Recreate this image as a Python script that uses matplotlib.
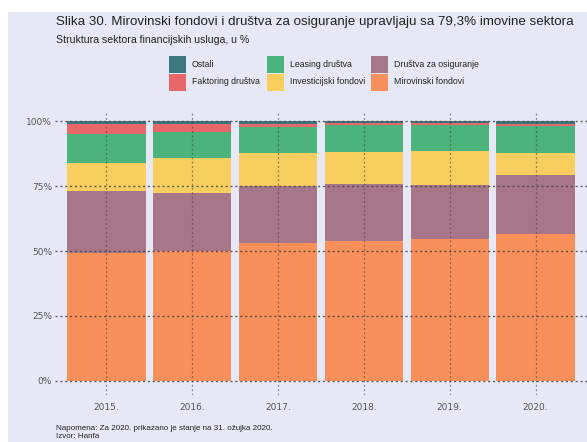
import matplotlib.pyplot as plt
from matplotlib.patches import Rectangle
import numpy as np

# podaci
godine = ['2015.', '2016.', '2017.', '2018.', '2019.', '2020.']
mirovinski = [49.1, 50.1, 52.9, 53.8, 54.6, 56.5]
osiguranje = [24.0, 22.3, 22.1, 22.0, 20.9, 22.8]
investicijski = [10.7, 13.4, 12.7, 12.3, 13.0, 8.3]
leasing = [11.2, 10.0, 9.9, 10.2, 9.8, 10.6]
faktoring = [3.8, 3.0, 1.2, 0.8, 0.8, 0.8]
ostali = [1.2, 1.2, 1.2, 0.9, 0.9, 1.0]

serije = [
    ('Mirovinski fondovi', mirovinski, '#F98F5A'),
    ('Društva za osiguranje', osiguranje, '#A87689'),
    ('Investicijski fondovi', investicijski, '#F8CE5F'),
    ('Leasing društva', leasing, '#4BB37B'),
    ('Faktoring društva', faktoring, '#E8686A'),
    ('Ostali', ostali, '#3D7880'),
]

W, H = 587, 442
bg = '#E6E8F5'
fig = plt.figure(figsize=(W / 100, H / 100), dpi=100)
fig.patch.set_facecolor('white')
fig.patches.append(Rectangle((8 / W, 0), 1, 1 - 12 / H, transform=fig.transFigure,
                             facecolor=bg, edgecolor='none', zorder=-10))

ax = fig.add_axes([55 / W, 47 / H, 532 / W, 282 / H])
ax.patch.set_alpha(0)

x = np.arange(len(godine))
dno = np.zeros(len(godine))
for ime, vrijednosti, boja in serije:
    ax.bar(x, vrijednosti, bottom=dno, width=0.91, color=boja, zorder=2)
    dno += np.array(vrijednosti)

ax.set_xlim(-0.6, 5.6)
ax.set_ylim(-5.4, 103.1)

for y in [0, 25, 50, 75, 100]:
    ax.axhline(y, color='#444444', linestyle=(0, (1.5, 2)), linewidth=1, zorder=3, alpha=0.85)
for xi in x:
    ax.axvline(xi, color='#444444', linestyle=(0, (1.5, 2)), linewidth=0.9, zorder=3, alpha=0.6)

ax.set_yticks([0, 25, 50, 75, 100])
ax.set_yticklabels(['0%', '25%', '50%', '75%', '100%'])
ax.set_xticks(x)
ax.set_xticklabels(godine)
ax.tick_params(length=0, labelsize=6.5, labelcolor='#555555', pad=2)
ax.tick_params(axis='x', pad=6)
for s in ax.spines.values():
    s.set_visible(False)

font = 'Liberation Sans'
fig.text(56 / W, 1 - 22 / H, 'Slika 30. Mirovinski fondovi i društva za osiguranje upravljaju sa 79,3% imovine sektora',
         fontsize=9.6, color='#222222', va='center', family=font)
fig.text(56 / W, 1 - 40 / H, 'Struktura sektora financijskih usluga, u %',
         fontsize=7.6, color='#222222', va='center', family=font)

# legenda: 3 stupca, 2 reda
legenda = [[5, 4], [3, 2], [1, 0]]
stupci_x = [169, 267, 371]
for sx, indeksi in zip(stupci_x, legenda):
    for red, i in enumerate(indeksi):
        gornji = 56 + red * 17.5
        fig.patches.append(Rectangle((sx / W, 1 - (gornji + 17) / H), 17 / W, 17 / H,
                                     transform=fig.transFigure, facecolor=serije[i][2],
                                     edgecolor='none'))
        fig.text((sx + 23) / W, 1 - (gornji + 8.5) / H, serije[i][0], fontsize=6.3,
                 color='#222222', va='center', family=font)

fig.text(56 / W, 1 - 428 / H, 'Napomena: Za 2020. prikazano je stanje na 31. ožujka 2020.',
         fontsize=5.8, color='#222222', va='center', family=font)
fig.text(56 / W, 1 - 436 / H, 'Izvor: Hanfa',
         fontsize=5.8, color='#222222', va='center', family=font)

plt.savefig('out.png', dpi=100)
